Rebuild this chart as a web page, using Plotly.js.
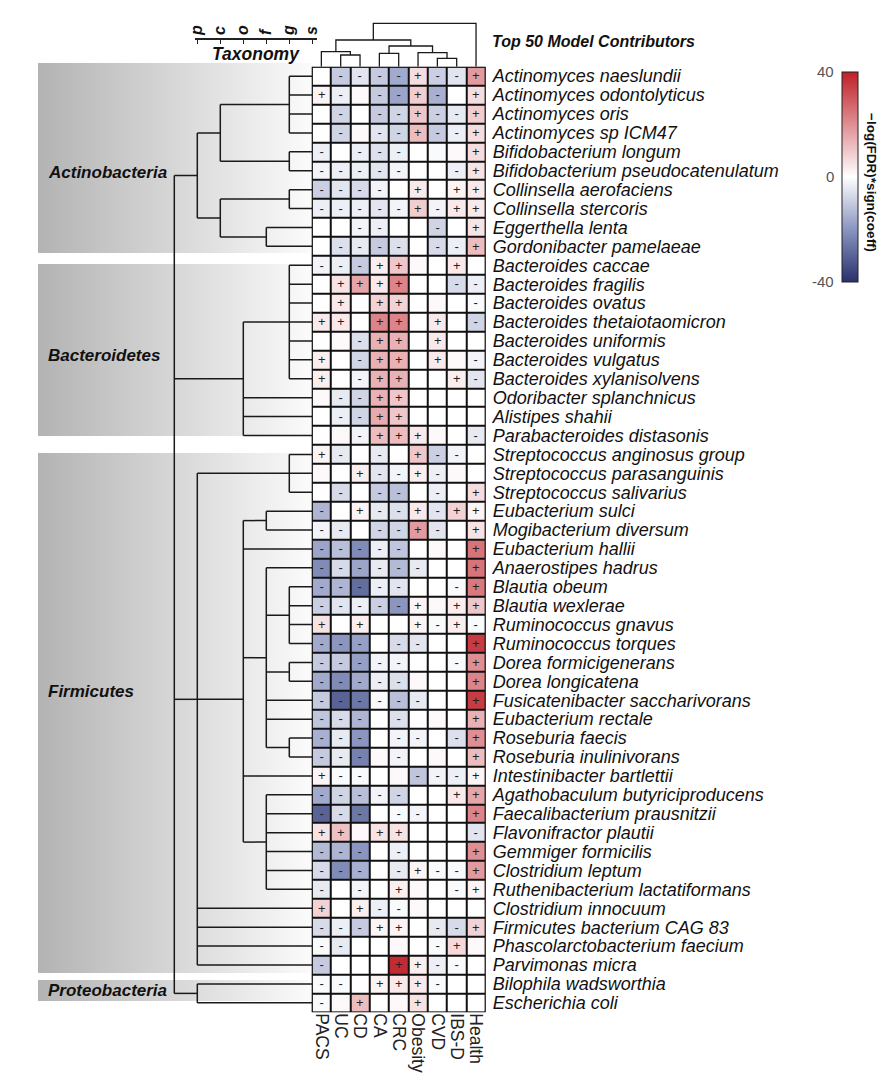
<!DOCTYPE html>
<html>
<head>
<meta charset="utf-8">
<script src="https://cdn.plot.ly/plotly-3.0.1.min.js"></script>
<style>html,body{margin:0;padding:0;background:#fff}#chart{width:885px;height:1085px}</style>
</head>
<body>
<div id="chart"></div>
<script>
// ---------------- DATA ----------------
const columns = ["PACS","UC","CD","CA","CRC","Obesity","CVD","IBS-D","Health"];

const species = [
"Actinomyces naeslundii","Actinomyces odontolyticus","Actinomyces oris","Actinomyces sp ICM47",
"Bifidobacterium longum","Bifidobacterium pseudocatenulatum","Collinsella aerofaciens","Collinsella stercoris",
"Eggerthella lenta","Gordonibacter pamelaeae","Bacteroides caccae","Bacteroides fragilis","Bacteroides ovatus",
"Bacteroides thetaiotaomicron","Bacteroides uniformis","Bacteroides vulgatus","Bacteroides xylanisolvens",
"Odoribacter splanchnicus","Alistipes shahii","Parabacteroides distasonis","Streptococcus anginosus group",
"Streptococcus parasanguinis","Streptococcus salivarius","Eubacterium sulci","Mogibacterium diversum",
"Eubacterium hallii","Anaerostipes hadrus","Blautia obeum","Blautia wexlerae","Ruminococcus gnavus",
"Ruminococcus torques","Dorea formicigenerans","Dorea longicatena","Fusicatenibacter saccharivorans",
"Eubacterium rectale","Roseburia faecis","Roseburia inulinivorans","Intestinibacter bartlettii",
"Agathobaculum butyriciproducens","Faecalibacterium prausnitzii","Flavonifractor plautii","Gemmiger formicilis",
"Clostridium leptum","Ruthenibacterium lactatiformans","Clostridium innocuum","Firmicutes bacterium CAG 83",
"Phascolarctobacterium faecium","Parvimonas micra","Bilophila wadsworthia","Escherichia coli"];

// -log(FDR)*sign(coeff), columns in the order above
const values = [
[0,-10,-5,-10,-16,6,-9,-5,18],
[2,-3,1,-10,-17,9,-15,0,6],
[0,-8,0,-10,-8,10,-9,-4,9],
[0,-8,1,-5,-8,12,-10,-3,6],
[-3,0,-3,-6,-3,0,-1,1,6],
[-2,-3,-3,-5,-2,0,0,-3,5],
[-9,-5,-7,-2,0,4,0,2,4],
[-3,-3,-3,-5,-2,9,-2,4,4],
[0,0,-2,-3,0,0,-8,0,5],
[0,-6,-4,-10,-6,0,-7,-3,12],
[-2,-3,-10,3,10,1,0,4,0],
[0,5,16,4,22,0,0,-7,-3],
[0,4,0,8,8,0,1,0,-1],
[4,4,0,22,22,0,4,0,-8],
[0,1,-6,14,14,0,4,0,0],
[3,0,-8,14,14,0,4,1,-2],
[3,0,-2,14,14,0,0,3,-5],
[1,-4,-8,14,10,0,0,0,0],
[0,-3,-8,15,10,0,0,0,0],
[0,1,-2,12,12,4,1,0,-4],
[2,-4,0,-4,0,10,-9,-2,0],
[1,0,3,-5,-2,3,-3,1,0],
[0,-7,0,-10,-12,0,-3,0,6],
[-14,0,2,-4,-6,4,-5,8,2],
[-2,-4,0,-8,-8,18,-5,0,5],
[-17,-12,-22,-3,-11,0,1,0,25],
[-22,-7,-17,-4,-13,-4,0,0,25],
[-16,-14,-28,-3,-5,0,0,-1,24],
[-9,-5,-3,-9,-20,2,1,3,10],
[5,0,3,0,0,2,-1,3,-1],
[-16,-20,-18,0,-7,-5,0,0,35],
[-10,-10,-18,-2,-2,0,0,-1,20],
[-16,-22,-16,-3,-6,1,0,0,22],
[-10,-30,-26,-1,-12,-4,0,0,35],
[-11,-7,-14,0,-6,0,1,0,14],
[-15,-4,-20,0,-2,-2,0,-6,20],
[-10,-4,-24,1,-2,0,1,0,12],
[2,-1,-1,0,1,-11,-2,-3,2],
[-16,-8,-12,-2,-8,0,0,4,16],
[-30,-7,-26,0,-1,-2,0,0,22],
[5,11,1,5,5,0,0,0,-5],
[-13,-14,-20,0,-3,0,0,0,20],
[-7,-22,-15,0,-4,2,-1,-1,18],
[-4,0,-2,0,3,1,0,-1,2],
[8,0,3,-3,-1,1,0,0,0],
[-7,-3,-10,2,2,0,-4,-7,8],
[-1,-4,0,0,1,0,-1,7,1],
[-10,0,0,0,38,3,-3,-1,0],
[-1,-1,0,2,4,4,-1,0,0],
[-1,1,12,0,1,5,0,0,0]];

// significance marks, one character per column (space = none)
const marks = [
" ----+--+","+- --+- +"," - --+--+"," - --+--+","- ---   +","-----  -+","---- + ++","-----+-++",
"  --  - +"," ---- --+","---++  + "," ++++  --"," + ++   -","++ ++ + -","  -++ +  ","+ -++ + -",
"+ -++  +-"," --++    "," --++    ","  -+++  -","+- - +-- ","  +--+-  "," - -- - +","- +--+-++",
"-- --+- +","-----   +","------  +","-----  -+","-----+ ++","+ +  +-+-","--- --  +","-----  -+",
"-----   +","------  +","--- -   +","--- -- -+","--- -   +","+--  ---+","-----  ++","--- --  +",
"++ ++   -","--- -   +","--- -+--+","- - +  -+","+ +--    ","---++ --+","--    -+ ","-   ++-- ",
"-- +++-  ","- +  +   "];

// taxonomy lineage: phylum;class;order;family;genus
const lineage = [
"Actinobacteria;Actinomycetia;Actinomycetales;Actinomycetaceae;Actinomyces",
"Actinobacteria;Actinomycetia;Actinomycetales;Actinomycetaceae;Actinomyces",
"Actinobacteria;Actinomycetia;Actinomycetales;Actinomycetaceae;Actinomyces",
"Actinobacteria;Actinomycetia;Actinomycetales;Actinomycetaceae;Actinomyces",
"Actinobacteria;Actinomycetia;Bifidobacteriales;Bifidobacteriaceae;Bifidobacterium",
"Actinobacteria;Actinomycetia;Bifidobacteriales;Bifidobacteriaceae;Bifidobacterium",
"Actinobacteria;Coriobacteriia;Coriobacteriales;Coriobacteriaceae;Collinsella",
"Actinobacteria;Coriobacteriia;Coriobacteriales;Coriobacteriaceae;Collinsella",
"Actinobacteria;Coriobacteriia;Eggerthellales;Eggerthellaceae;Eggerthella",
"Actinobacteria;Coriobacteriia;Eggerthellales;Eggerthellaceae;Gordonibacter",
"Bacteroidetes;Bacteroidia;Bacteroidales;Bacteroidaceae;Bacteroides",
"Bacteroidetes;Bacteroidia;Bacteroidales;Bacteroidaceae;Bacteroides",
"Bacteroidetes;Bacteroidia;Bacteroidales;Bacteroidaceae;Bacteroides",
"Bacteroidetes;Bacteroidia;Bacteroidales;Bacteroidaceae;Bacteroides",
"Bacteroidetes;Bacteroidia;Bacteroidales;Bacteroidaceae;Bacteroides",
"Bacteroidetes;Bacteroidia;Bacteroidales;Bacteroidaceae;Bacteroides",
"Bacteroidetes;Bacteroidia;Bacteroidales;Bacteroidaceae;Bacteroides",
"Bacteroidetes;Bacteroidia;Bacteroidales;Odoribacteraceae;Odoribacter",
"Bacteroidetes;Bacteroidia;Bacteroidales;Rikenellaceae;Alistipes",
"Bacteroidetes;Bacteroidia;Bacteroidales;Tannerellaceae;Parabacteroides",
"Firmicutes;Bacilli;Lactobacillales;Streptococcaceae;Streptococcus",
"Firmicutes;Bacilli;Lactobacillales;Streptococcaceae;Streptococcus",
"Firmicutes;Bacilli;Lactobacillales;Streptococcaceae;Streptococcus",
"Firmicutes;Clostridia;Eubacteriales;Anaerovoracaceae;Eubacterium",
"Firmicutes;Clostridia;Eubacteriales;Anaerovoracaceae;Mogibacterium",
"Firmicutes;Clostridia;Eubacteriales;Eubacteriaceae;Eubacterium",
"Firmicutes;Clostridia;Eubacteriales;Lachnospiraceae;Anaerostipes",
"Firmicutes;Clostridia;Eubacteriales;Lachnospiraceae;Blautia",
"Firmicutes;Clostridia;Eubacteriales;Lachnospiraceae;Blautia",
"Firmicutes;Clostridia;Eubacteriales;Lachnospiraceae;Blautia",
"Firmicutes;Clostridia;Eubacteriales;Lachnospiraceae;Blautia",
"Firmicutes;Clostridia;Eubacteriales;Lachnospiraceae;Dorea",
"Firmicutes;Clostridia;Eubacteriales;Lachnospiraceae;Dorea",
"Firmicutes;Clostridia;Eubacteriales;Lachnospiraceae;Fusicatenibacter",
"Firmicutes;Clostridia;Eubacteriales;Lachnospiraceae;Agathobacter",
"Firmicutes;Clostridia;Eubacteriales;Lachnospiraceae;Roseburia",
"Firmicutes;Clostridia;Eubacteriales;Lachnospiraceae;Roseburia",
"Firmicutes;Clostridia;Eubacteriales;Peptostreptococcaceae;Intestinibacter",
"Firmicutes;Clostridia;Eubacteriales;Oscillospiraceae;Agathobaculum",
"Firmicutes;Clostridia;Eubacteriales;Oscillospiraceae;Faecalibacterium",
"Firmicutes;Clostridia;Eubacteriales;Oscillospiraceae;Flavonifractor",
"Firmicutes;Clostridia;Eubacteriales;Oscillospiraceae;Gemmiger",
"Firmicutes;Clostridia;Eubacteriales;Oscillospiraceae;Clostridium",
"Firmicutes;Clostridia;Eubacteriales;Oscillospiraceae;Ruthenibacterium",
"Firmicutes;Erysipelotrichia;Erysipelotrichales;Erysipelotrichaceae;Clostridium",
"Firmicutes;Unclassified;Unclassified;Unclassified;Unclassified",
"Firmicutes;Negativicutes;Acidaminococcales;Acidaminococcaceae;Phascolarctobacterium",
"Firmicutes;Tissierellia;Tissierellales;Peptoniphilaceae;Parvimonas",
"Proteobacteria;Deltaproteobacteria;Desulfovibrionales;Desulfovibrionaceae;Bilophila",
"Proteobacteria;Gammaproteobacteria;Enterobacterales;Enterobacteriaceae;Escherichia"];

// node vertical positions (row units) where they differ from the midpoint rule
const nodeRow = {"Firmicutes": 32.95, "Firmicutes;Clostridia;Eubacteriales": 32.95};

const rankLabels = ["p","c","o","f","g","s"];

// phylum bands (row units, top / bottom) and label rows
const phyla      = ["Actinobacteria","Bacteroidetes","Firmicutes","Proteobacteria"];
const bandTop    = [-0.70, 9.93, 19.93, 47.79];
const bandBottom = [9.35, 19.03, 47.42, 48.90];
const labelRow   = [5.07, 14.75, 32.56, 48.33];

// column dendrogram (merge heights)
const colTree = {h:1.0, c:[
  {h:0.615, c:[
     {h:0.346, c:["PACS", {h:0.27, c:["UC","CD"]}]},
     {h:0.477, c:[{h:0.309, c:["CA","CRC"]},
                  {h:0.323, c:["Obesity", {h:0.194, c:["CVD","IBS-D"]}]}]}
  ]},
  "Health"]};

// ---------------- GEOMETRY ----------------
const W = 885, H = 1085;
const HM_L = 311.7, HM_R = 485.7, HM_T = 66.7, HM_B = 1012.3;
const ROW = (HM_B - HM_T) / 50;
const LVL0 = 174.3, LVL = 23;            // pixel x of tree level 0, pixels per rank
const TREE_L = 38, TREE_R = 312.3;
const FONT = "Liberation Sans, Arial, Helvetica, sans-serif";
const py = p => 1 - p / H, px = p => p / W;
const lvlAt = p => (p - LVL0) / LVL;

// ---------------- TAXONOMY TREE ----------------
const root = {key:"root", level:0, children:[], map:{}};
lineage.forEach((lin, i) => {
  const parts = lin.split(";");
  let node = root;
  parts.forEach((p, k) => {
    const key = parts.slice(0, k + 1).join(";");
    if (!node.map[key]) { const n = {key, level:k + 1, children:[], map:{}}; node.map[key] = n; node.children.push(n); }
    node = node.map[key];
  });
  node.children.push({key:species[i], level:6, row:i, children:[]});
});
function yOf(n) {
  if (n.row !== undefined) return (n.y = n.row);
  const ys = n.children.map(yOf);
  n.y = (nodeRow[n.key] !== undefined) ? nodeRow[n.key] : (Math.min(...ys) + Math.max(...ys)) / 2;
  return n.y;
}
yOf(root);
const tx = [], ty = [];
function collapse(n) { while (n.children.length === 1) n = n.children[0]; return n; }
function drawTree(n, parentX) {
  const c = collapse(n);
  if (parentX !== null) { tx.push(parentX, c.level, null); ty.push(c.y, c.y, null); }
  if (c.children.length > 1) {
    const ys = c.children.map(ch => ch.y);
    tx.push(c.level, c.level, null); ty.push(Math.min(...ys), Math.max(...ys), null);
    c.children.forEach(ch => drawTree(ch, c.level));
  }
}
drawTree(root, null);

// ---------------- COLUMN DENDROGRAM ----------------
const dx = [], dy = [];
const cxOf = n => typeof n === "string" ? columns.indexOf(n) : (cxOf(n.c[0]) + cxOf(n.c[1])) / 2;
const chOf = n => typeof n === "string" ? 0 : n.h;
function drawCol(n) {
  if (typeof n === "string") return;
  const x0 = cxOf(n.c[0]), x1 = cxOf(n.c[1]);
  dx.push(x0, x0, x1, x1, null); dy.push(chOf(n.c[0]), n.h, n.h, chOf(n.c[1]), null);
  drawCol(n.c[0]); drawCol(n.c[1]);
}
drawCol(colTree);

// ---------------- TRACES ----------------
const traces = [];
// heatmap
traces.push({type:"heatmap", x:columns.map((c, i) => i), y:species.map((s, i) => i), z:values,
  zmin:-40, zmax:40,
  colorscale:[[0, "#29306b"], [0.25, "#8a95c0"], [0.5, "#ffffff"], [0.75, "#df8f94"], [1, "#bf2026"]],
  xgap:2, ygap:2,
  text:marks.map(m => m.split("").map(ch => ch === " " ? "" : ch)),
  texttemplate:"%{text}", textfont:{family:FONT, size:13, color:"#222"},
  hoverinfo:"skip",
  colorbar:{x:px(841.7), xanchor:"left", xpad:0, y:py(71.7), yanchor:"top", ypad:0,
    len:210 / H, lenmode:"fraction", thickness:15.6, thicknessmode:"pixels",
    outlinewidth:1, outlinecolor:"#222", showticklabels:false, ticks:"", title:{text:""}}
});
// phylum bands (same subplot as the tree, drawn first)
const bandX0 = lvlAt(TREE_L), bandX1 = lvlAt(HM_L);
phyla.forEach((p, i) => {
  traces.push({type:"scatter", xaxis:"x3", yaxis:"y3", mode:"lines",
    x:[bandX0, bandX1, bandX1, bandX0, bandX0], y:[bandTop[i], bandTop[i], bandBottom[i], bandBottom[i], bandTop[i]],
    fill:"toself", fillcolor:"#dcdcdc",
    fillgradient:{type:"horizontal", colorscale:[[0, "#b3b3b3"], [1, "#fbfbfb"]]},
    line:{width:0}, hoverinfo:"skip", showlegend:false});
});
// tree
traces.push({type:"scatter", xaxis:"x3", yaxis:"y3", mode:"lines", x:tx, y:ty,
  line:{color:"#1a1a1a", width:1.5}, hoverinfo:"skip", showlegend:false});
// column dendrogram
traces.push({type:"scatter", xaxis:"x", yaxis:"y2", mode:"lines", x:dx, y:dy,
  line:{color:"#1a1a1a", width:1.3}, hoverinfo:"skip", showlegend:false});
// taxonomy ruler carrier
traces.push({type:"scatter", xaxis:"x4", yaxis:"y", x:[], y:[], mode:"markers", hoverinfo:"skip", showlegend:false});

// ---------------- LAYOUT ----------------
const annotations = [];
phyla.forEach((p, i) => annotations.push({xref:"paper", yref:"y", x:px(46), y:labelRow[i], xanchor:"left", yanchor:"middle",
  text:"<b><i>" + p + "</i></b>", showarrow:false, font:{family:FONT, size:17, color:"#111"}}));
annotations.push({xref:"paper", yref:"paper", x:px(256), y:py(54), xanchor:"center", yanchor:"middle",
  text:"<b><i>Taxonomy</i></b>", showarrow:false, font:{family:FONT, size:17.5, color:"#111"}});
annotations.push({xref:"paper", yref:"paper", x:px(490), y:py(42), xanchor:"left", yanchor:"middle",
  text:"<b><i>Top 50 Model Contributors</i></b>", showarrow:false, font:{family:FONT, size:16, color:"#111"}});
// colorbar labels
const cbTop = 71.7, cbBot = 281.7;
[[40, cbTop], [0, (cbTop + cbBot) / 2], [-40, cbBot]].forEach(([v, yy]) => annotations.push({xref:"paper", yref:"paper",
  x:px(836), y:py(yy), xanchor:"right", yanchor:"middle", text:String(v), showarrow:false, font:{family:FONT, size:15, color:"#555"}}));
annotations.push({xref:"paper", yref:"paper", x:px(871), y:py(182), xanchor:"center", yanchor:"middle",
  text:"<b>\u2212log(FDR)*sign(coeff)</b>", textangle:90,
  showarrow:false, font:{family:FONT, size:13.5, color:"#111"}});

const layout = {
  width:W, height:H, margin:{l:0, r:0, t:0, b:0}, paper_bgcolor:"#fff", plot_bgcolor:"rgba(0,0,0,0)",
  showlegend:false, font:{family:FONT},
  xaxis:{domain:[px(HM_L), px(HM_R)], range:[-0.5, 8.5], anchor:"y", tickvals:columns.map((c, i) => i), ticktext:columns,
    tickangle:90, ticks:"", showgrid:false, zeroline:false, showline:false, fixedrange:true,
    tickfont:{family:FONT, size:17.5, color:"#222"}},
  yaxis:{domain:[py(HM_B), py(HM_T)], range:[49.5, -0.5], anchor:"x", side:"right", tickvals:species.map((s, i) => i),
    ticktext:species, ticks:"", showgrid:false, zeroline:false, showline:false, fixedrange:true, ticklabelstandoff:6,
    tickfont:{family:FONT, size:18, color:"#111", style:"italic"}},
  yaxis2:{domain:[py(HM_T), py(20)], range:[0, (HM_T - 20) / 43.4], anchor:"x", visible:false, fixedrange:true},
  xaxis3:{domain:[px(TREE_L), px(TREE_R)], range:[lvlAt(TREE_L), lvlAt(TREE_R)], anchor:"y3", visible:false, fixedrange:true},
  yaxis3:{domain:[py(1020), py(55)], range:[(1020 - HM_T) / ROW - 0.5, (55 - HM_T) / ROW - 0.5], anchor:"x3", visible:false, fixedrange:true},
  xaxis4:{domain:[px(195), px(316.7)], range:[lvlAt(195), lvlAt(316.7)], anchor:"free", position:py(38.3), side:"top",
    showline:true, linecolor:"#222", linewidth:1.3, ticks:"inside", ticklen:4, tickcolor:"#222", tickwidth:1.2,
    tickvals:[1, 2, 3, 4, 5, 6], ticktext:rankLabels, tickangle:-90, showgrid:false, zeroline:false, fixedrange:true,
    tickfont:{family:FONT, size:16, color:"#111", weight:"bold", style:"italic"}},
  shapes:[
    {type:"rect", xref:"x", yref:"y", x0:-0.5, x1:8.5, y0:-0.5, y1:49.5, fillcolor:"#111", line:{width:0}, layer:"below"},
    {type:"rect", xref:"x", yref:"y", x0:-0.5, x1:8.5, y0:-0.5, y1:49.5, fillcolor:"rgba(0,0,0,0)", line:{width:1.8, color:"#111"}, layer:"above"}
  ],
  annotations
};
Plotly.newPlot("chart", traces, layout, {staticPlot:true, displayModeBar:false});
</script>
</body>
</html>
